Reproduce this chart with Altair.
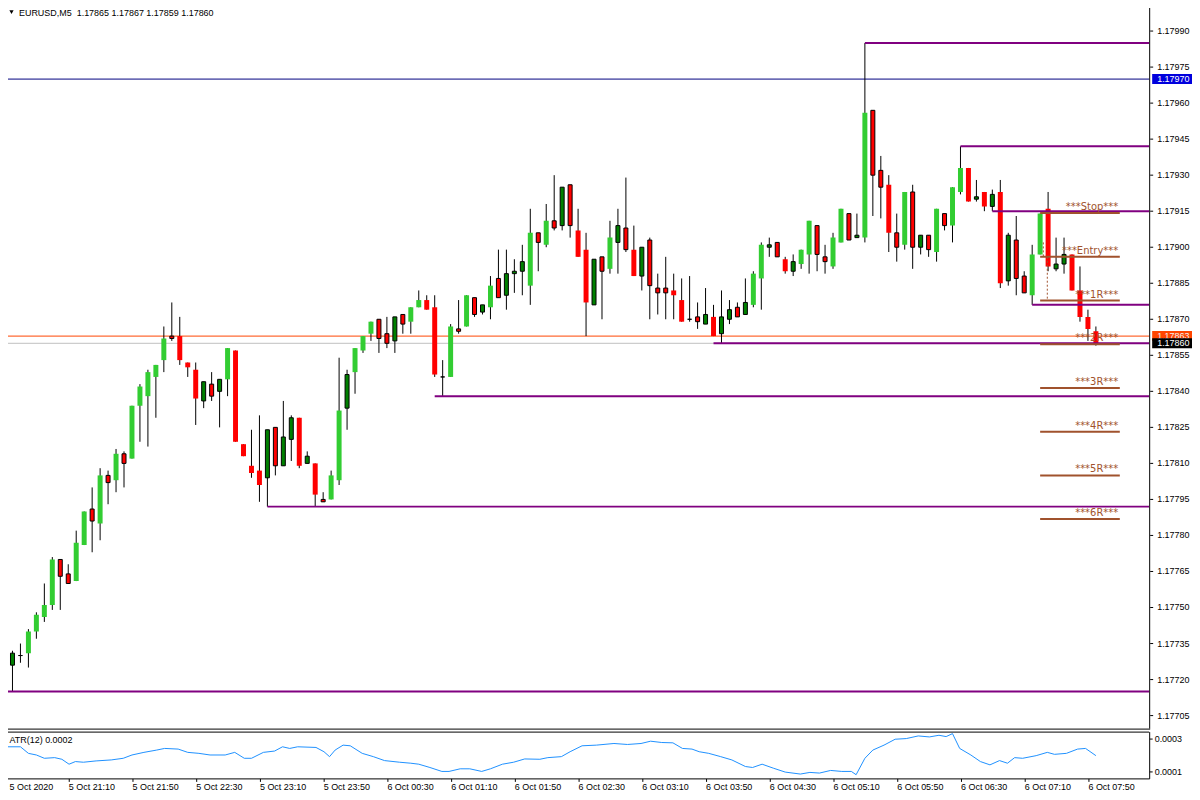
import json
import altair as alt
import pandas as pd

# ---------------- data ----------------
opens = [
    1.17742, 1.17726, 1.17730, 1.17731, 1.17740, 1.17746, 1.17751, 1.17770, 1.17764, 1.17761,
    1.17776, 1.17791, 1.17785, 1.17805, 1.17803, 1.17814, 1.17812, 1.17834, 1.17838, 1.17846,
    1.17853, 1.17863, 1.17863, 1.17852, 1.17849, 1.17836, 1.17843, 1.17840, 1.17845, 1.17857,
    1.17818, 1.17809, 1.17807, 1.17804, 1.17825, 1.17809, 1.17820, 1.17829, 1.17810, 1.17810,
    1.17795, 1.17795, 1.17803, 1.17833, 1.17848, 1.17857, 1.17864, 1.17870, 1.17864, 1.17861,
    1.17872, 1.17869, 1.17875, 1.17878, 1.17875, 1.17846, 1.17846, 1.17866, 1.17867, 1.17879,
    1.17873, 1.17875, 1.17887, 1.17880, 1.17889, 1.17890, 1.17884, 1.17906, 1.17901, 1.17911,
    1.17909, 1.17926, 1.17907, 1.17899, 1.17876, 1.17896, 1.17891, 1.17902, 1.17908, 1.17899,
    1.17888, 1.17903, 1.17883, 1.17883, 1.17882, 1.17878, 1.17870, 1.17871, 1.17868, 1.17871,
    1.17864, 1.17870, 1.17875, 1.17872, 1.17876, 1.17887, 1.17900, 1.17902, 1.17895, 1.17890,
    1.17893, 1.17897, 1.17909, 1.17896, 1.17892, 1.17902, 1.17914, 1.17904, 1.17904, 1.17957,
    1.17932, 1.17926, 1.17906, 1.17901, 1.17923, 1.17900, 1.17905, 1.17898, 1.17914, 1.17909,
    1.17923, 1.17933, 1.17920, 1.17923, 1.17917, 1.17923, 1.17886, 1.17903, 1.17888, 1.17880,
    1.17897, 1.17916, 1.17891, 1.17893, 1.17897, 1.17882, 1.17871, 1.17865,
]
highs = [
    1.17751, 1.17732, 1.17735, 1.17741, 1.17748, 1.17760, 1.17771, 1.17770, 1.17768, 1.17782,
    1.17790, 1.17800, 1.17808, 1.17807, 1.17816, 1.17815, 1.17834, 1.17843, 1.17849, 1.17851,
    1.17867, 1.17877, 1.17871, 1.17852, 1.17852, 1.17844, 1.17848, 1.17845, 1.17858, 1.17857,
    1.17818, 1.17824, 1.17830, 1.17824, 1.17825, 1.17836, 1.17830, 1.17829, 1.17815, 1.17810,
    1.17798, 1.17807, 1.17854, 1.17849, 1.17858, 1.17863, 1.17869, 1.17870, 1.17871, 1.17871,
    1.17872, 1.17875, 1.17882, 1.17880, 1.17880, 1.17853, 1.17868, 1.17878, 1.17880, 1.17879,
    1.17876, 1.17888, 1.17899, 1.17899, 1.17895, 1.17901, 1.17916, 1.17906, 1.17918, 1.17930,
    1.17925, 1.17926, 1.17916, 1.17906, 1.17895, 1.17896, 1.17911, 1.17916, 1.17929, 1.17909,
    1.17900, 1.17904, 1.17889, 1.17896, 1.17889, 1.17887, 1.17888, 1.17877, 1.17883, 1.17876,
    1.17882, 1.17878, 1.17877, 1.17887, 1.17890, 1.17902, 1.17904, 1.17902, 1.17896, 1.17897,
    1.17899, 1.17911, 1.17909, 1.17901, 1.17906, 1.17916, 1.17914, 1.17914, 1.17985, 1.17957,
    1.17938, 1.17930, 1.17914, 1.17923, 1.17926, 1.17905, 1.17905, 1.17916, 1.17914, 1.17925,
    1.17942, 1.17933, 1.17928, 1.17923, 1.17924, 1.17928, 1.17906, 1.17913, 1.17890, 1.17901,
    1.17914, 1.17923, 1.17904, 1.17904, 1.17897, 1.17892, 1.17874, 1.17867,
]
lows = [
    1.17726, 1.17715, 1.17727, 1.17725, 1.17737, 1.17744, 1.17749, 1.17749, 1.17760, 1.17761,
    1.17776, 1.17773, 1.17778, 1.17793, 1.17798, 1.17800, 1.17812, 1.17819, 1.17817, 1.17829,
    1.17848, 1.17861, 1.17851, 1.17846, 1.17826, 1.17833, 1.17836, 1.17825, 1.17838, 1.17819,
    1.17813, 1.17804, 1.17794, 1.17792, 1.17805, 1.17809, 1.17811, 1.17808, 1.17810, 1.17792,
    1.17794, 1.17795, 1.17801, 1.17824, 1.17839, 1.17856, 1.17861, 1.17856, 1.17858, 1.17856,
    1.17864, 1.17864, 1.17875, 1.17874, 1.17846, 1.17838, 1.17846, 1.17864, 1.17867, 1.17871,
    1.17872, 1.17870, 1.17879, 1.17874, 1.17881, 1.17880, 1.17876, 1.17890, 1.17900, 1.17907,
    1.17907, 1.17904, 1.17896, 1.17863, 1.17876, 1.17870, 1.17889, 1.17889, 1.17898, 1.17888,
    1.17882, 1.17870, 1.17872, 1.17870, 1.17870, 1.17869, 1.17869, 1.17866, 1.17868, 1.17863,
    1.17860, 1.17868, 1.17871, 1.17872, 1.17875, 1.17874, 1.17896, 1.17896, 1.17889, 1.17888,
    1.17891, 1.17889, 1.17890, 1.17889, 1.17891, 1.17902, 1.17903, 1.17904, 1.17902, 1.17913,
    1.17912, 1.17898, 1.17894, 1.17899, 1.17891, 1.17897, 1.17896, 1.17894, 1.17907, 1.17902,
    1.17922, 1.17919, 1.17919, 1.17915, 1.17915, 1.17883, 1.17884, 1.17880, 1.17881, 1.17876,
    1.17897, 1.17890, 1.17890, 1.17889, 1.17882, 1.17869, 1.17861, 1.17859,
]
closes = [
    1.17727, 1.17731, 1.17730, 1.17740, 1.17747, 1.17751, 1.17770, 1.17763, 1.17760, 1.17777,
    1.17790, 1.17786, 1.17805, 1.17802, 1.17814, 1.17810, 1.17834, 1.17842, 1.17848, 1.17851,
    1.17862, 1.17862, 1.17853, 1.17850, 1.17837, 1.17844, 1.17838, 1.17845, 1.17858, 1.17819,
    1.17813, 1.17806, 1.17801, 1.17824, 1.17809, 1.17821, 1.17829, 1.17809, 1.17813, 1.17797,
    1.17794, 1.17805, 1.17832, 1.17847, 1.17858, 1.17863, 1.17869, 1.17862, 1.17860, 1.17871,
    1.17868, 1.17875, 1.17878, 1.17874, 1.17847, 1.17846, 1.17867, 1.17865, 1.17880, 1.17872,
    1.17876, 1.17884, 1.17879, 1.17889, 1.17890, 1.17894, 1.17906, 1.17902, 1.17911, 1.17908,
    1.17925, 1.17909, 1.17896, 1.17877, 1.17895, 1.17890, 1.17904, 1.17909, 1.17899, 1.17888,
    1.17900, 1.17884, 1.17881, 1.17881, 1.17880, 1.17869, 1.17870, 1.17869, 1.17872, 1.17863,
    1.17871, 1.17874, 1.17871, 1.17877, 1.17889, 1.17901, 1.17901, 1.17896, 1.17890, 1.17894,
    1.17899, 1.17911, 1.17897, 1.17894, 1.17904, 1.17916, 1.17903, 1.17905, 1.17956, 1.17930,
    1.17925, 1.17906, 1.17900, 1.17923, 1.17900, 1.17905, 1.17899, 1.17916, 1.17909, 1.17925,
    1.17933, 1.17919, 1.17921, 1.17917, 1.17922, 1.17885, 1.17905, 1.17887, 1.17881, 1.17897,
    1.17914, 1.17892, 1.17893, 1.17897, 1.17882, 1.17871, 1.17866, 1.17860,
]
# candle style: B = bright green, G = dark green outlined, R = red, r = red outlined
kinds = list(
    "RGGBBBBrrB" "BrBrBrBBBB" "BrRRRGrGBR" "RRRGrGGRGR" "rBBGBBBrrG"
    "rBBRRGBrBr" "GBrGGGBrBr" "GrRRGrBGrR" "GrrrRRGrGR" "GGrGBBGrRG"
    "BBrrBBrGBr" "rRrBrGrBrB" "BRGRGRGrrB" "BRGGRRRR"
)

time_labels = [
    "5 Oct 2020", "5 Oct 21:10", "5 Oct 21:50", "5 Oct 22:30", "5 Oct 23:10", "5 Oct 23:50",
    "6 Oct 00:30", "6 Oct 01:10", "6 Oct 01:50", "6 Oct 02:30", "6 Oct 03:10", "6 Oct 03:50",
    "6 Oct 04:30", "6 Oct 05:10", "6 Oct 05:50", "6 Oct 06:30", "6 Oct 07:10", "6 Oct 07:50",
]
label_bars = [0, 8, 16, 24, 32, 40, 48, 56, 64, 72, 80, 88, 96, 104, 112, 120, 128, 136]
price_ticks = [
    1.17705, 1.17720, 1.17735, 1.17750, 1.17765, 1.17780, 1.17795, 1.17810, 1.17825, 1.17840,
    1.17855, 1.17870, 1.17885, 1.17900, 1.17915, 1.17930, 1.17945, 1.17960, 1.17975, 1.17990,
]

sr_levels = [1.17985, 1.17942, 1.17915, 1.17876, 1.17860, 1.17838, 1.17792, 1.17715]
sr_from = [108, 120, 124, 129, 89, 54, 33, 0]

r_names = ["***Stop***", "***Entry***", "***1R***", "***2R***", "***3R***", "***4R***", "***5R***", "***6R***"]
r_levels = [1.179142, 1.17896, 1.178778, 1.178596, 1.178414, 1.178232, 1.17805, 1.177868]
r_from, r_to = 130, 140

dash_x = [130.4, 130.9]
dash_top = [1.17902, 1.17896]
dash_bot = [1.17896, 1.178778]

hline_price = 1.17970
ask_price = 1.17863
bid_price = closes[-1]

atr_pos = [
    0, 2, 3, 4, 5, 6.3, 7.2, 8.1, 8.9, 9.9, 11.5, 13.4, 14.9, 16, 17.5, 19.1, 20.1, 21.8, 23, 24.4,
    25.8, 27.7, 28.9, 30.1, 31, 32.5, 33.9, 34.9, 35.8, 36.8, 39.1, 40.1, 40.8, 41.5, 42.5, 43.4,
    44.9, 46.3, 47.7, 49.6, 51, 52, 53.4, 54.9, 55.8, 57.2, 58.4, 59.9, 61, 62.5, 63.9, 65.3, 67.2,
    68.2, 69.9, 71, 72.5, 74.3, 76.5, 78.2, 79.9, 81.1, 82.5, 83.9, 85.1, 86.3, 87.2, 88.4, 89.9,
    91.3, 93, 93.9, 95.1, 96.5, 98, 99.9, 101.1, 102.3, 103.7, 105.1, 106.3, 106.9, 108, 109, 110.4,
    111.8, 113.2, 114.7, 116.1, 117.3, 118.2, 119, 119.9, 121.3, 122.5, 123.7, 124.9, 125.9, 126.8,
    127.8, 129.5, 130.9, 131.8, 133.3, 134.7, 135.7, 137,
]
atr_e4 = [  # ATR in units of 0.0001
    2.5, 2.5, 2.1, 2.0, 1.8, 1.84, 1.74, 1.44, 1.6, 1.56, 1.64, 1.7, 1.8, 2.0, 2.16, 2.3, 2.4, 2.36,
    2.16, 2.1, 2.0, 2.0, 2.16, 1.8, 1.8, 2.16, 2.24, 2.5, 2.4, 2.5, 2.46, 2.2, 1.9, 2.3, 2.6, 2.56,
    2.1, 1.9, 1.66, 1.56, 1.5, 1.44, 1.24, 1.0, 1.0, 1.16, 1.16, 1.0, 1.16, 1.44, 1.56, 1.76, 1.74,
    1.84, 1.9, 2.2, 2.56, 2.6, 2.7, 2.64, 2.7, 2.84, 2.76, 2.74, 2.4, 2.36, 2.2, 2.1, 1.9, 1.7, 1.3,
    1.24, 1.44, 1.2, 0.96, 0.84, 0.94, 0.9, 1.06, 1.0, 1.0, 0.8, 1.8, 2.3, 2.6, 2.96, 3.0, 3.16, 3.1,
    3.2, 3.12, 3.3, 2.4, 2.0, 1.6, 1.4, 1.66, 1.5, 1.84, 1.8, 1.96, 2.16, 2.04, 2.1, 2.36, 2.4, 1.96,
]
atr_ticks = [0.0001, 0.0003]
atr_title = "ATR(12) 0.0002"
symbol = "EURUSD,M5"

# ---------------- layout constants ----------------
W, H_MAIN, H_ATR = 1151, 730, 47
X_MIN, X_MAX = -0.1875, 143.6875
Y_MIN, Y_MAX = 1.1769958, 1.1800223
A_MIN, A_MAX = 0.0000576, 0.0003424
FONT = "Liberation Sans"
SIENNA = "#A0522D"
PURPLE = "#800080"

xs = alt.Scale(domain=[X_MIN, X_MAX], nice=False, zero=False)
ys = alt.Scale(domain=[Y_MIN, Y_MAX], nice=False, zero=False)
ats = alt.Scale(domain=[A_MIN, A_MAX], nice=False, zero=False)


def X(f, axis=None):
    return alt.X(f, type="quantitative", scale=xs, axis=axis)


def Y(f):
    return alt.Y(f, type="quantitative", scale=ys, axis=None)


bars = pd.DataFrame({
    "i": list(range(len(opens))), "open": opens, "high": highs,
    "low": lows, "close": closes, "kind": kinds,
})
bars["x0"] = bars["i"] - 0.3125
bars["x1"] = bars["i"] + 0.3125
bars["xb0"] = bars["i"] - 0.25
bars["xb1"] = bars["i"] + 0.25

kind_scale = alt.Scale(domain=["B", "G", "R", "r"], range=["#32CD32", "#008000", "#FF0000", "#FF0000"])

one = pd.DataFrame({"a": [0]})

# --- horizontal price lines (behind candles)
def full_line(price, color):
    return alt.Chart(pd.DataFrame({"p": [price]})).mark_rule(color=color, strokeWidth=1).encode(y=Y("p"))

lines_back = [full_line(hline_price, "#000080"), full_line(bid_price, "#C0C0C0"),
              full_line(ask_price, "#FF4500")]

base = alt.Chart(bars)
wicks = base.mark_rule(color="black", strokeWidth=1, clip=True).encode(
    x=X("i"), y=Y("low"), y2="high")
bodies = base.transform_filter(
    alt.FieldOneOfPredicate(field="kind", oneOf=["B", "R"])
).mark_rect(clip=True).encode(
    x=X("x0"), x2="x1", y=Y("open"), y2="close",
    color=alt.Color("kind:N", scale=kind_scale, legend=None))
bodies_b = base.transform_filter(
    alt.FieldOneOfPredicate(field="kind", oneOf=["G", "r"])
).mark_rect(clip=True, stroke="black", strokeWidth=1).encode(
    x=X("xb0"), x2="xb1", y=Y("open"), y2="close",
    color=alt.Color("kind:N", scale=kind_scale, legend=None))

sr = pd.DataFrame({"level": sr_levels, "start": sr_from, "end": [X_MAX] * len(sr_levels)})
sr_lines = alt.Chart(sr).mark_rule(color=PURPLE, strokeWidth=2, clip=True).encode(
    x=X("start"), x2="end", y=Y("level"))

rr = pd.DataFrame({"name": r_names, "level": r_levels, "a": r_from, "b": r_to, "tx": r_to - 0.2})
r_lines = alt.Chart(rr).mark_rule(color=SIENNA, strokeWidth=2, clip=True).encode(
    x=X("a"), x2="b", y=Y("level"))
r_text = alt.Chart(rr).mark_text(
    align="right", baseline="alphabetic", dy=-3, font="DejaVu Sans", fontSize=10, color=SIENNA
).encode(x=X("tx"), y=Y("level"), text="name:N")

dd = pd.DataFrame({"x": dash_x, "t": dash_top, "b": dash_bot})
dash = alt.Chart(dd).mark_rule(color=SIENNA, strokeWidth=1, strokeDash=[2, 2]).encode(
    x=X("x"), y=Y("t"), y2="b")

header_txt = f"{symbol}\u00a0\u00a0{opens[-1]:.5f} {highs[-1]:.5f} {lows[-1]:.5f} {closes[-1]:.5f}"
header = alt.Chart(pd.DataFrame({"t": [header_txt]})).mark_text(
    align="left", baseline="middle", font=FONT, fontSize=9, color="black"
).encode(x=alt.value(16), y=alt.value(11), text="t:N")
tri = alt.Chart(one).mark_point(shape="triangle-down", filled=True, color="black", size=18, opacity=1).encode(
    x=alt.value(8.5), y=alt.value(10.5))

# --- right price axis drawn from the tick list through the y scale
tk = pd.DataFrame({"p": price_ticks, "lab": [f"{v:.5f}" for v in price_ticks]})
axis_line = alt.Chart(one).mark_rule(color="black", strokeWidth=1).encode(
    x=alt.value(W + 0.5), y=alt.value(0.5), y2=alt.value(H_MAIN))
bottom_line = alt.Chart(one).mark_rule(color="black", strokeWidth=1).encode(
    x=alt.value(0.5), x2=alt.value(W + 1), y=alt.value(H_MAIN + 0.5))
tick_marks = alt.Chart(tk).mark_rule(color="black", strokeWidth=1).encode(
    x=alt.value(W + 1), x2=alt.value(W + 4), y=Y("p"))
tick_labels = alt.Chart(tk).mark_text(
    align="left", baseline="middle", font=FONT, fontSize=9, color="black"
).encode(x=alt.value(W + 8), y=Y("p"), text="lab:N")


def price_box(price, fill, txt_color):
    d = pd.DataFrame({"p": [price], "lab": [f"{price:.5f}"]})
    box = alt.Chart(d).mark_tick(orient="horizontal", size=40, thickness=10, color=fill, opacity=1).encode(
        x=alt.value(1174), y=Y("p"))
    txt = alt.Chart(d).mark_text(align="left", baseline="middle", font=FONT, fontSize=9, color=txt_color).encode(
        x=alt.value(W + 8), y=Y("p"), text="lab:N")
    return [box, txt]


boxes = price_box(hline_price, "#0000DD", "white") + price_box(ask_price, "#FF4500", "#F0F0F0") + \
    price_box(bid_price, "black", "white")

main = alt.layer(
    *lines_back, wicks, bodies, bodies_b, sr_lines, r_lines, dash, r_text, header, tri,
    axis_line, bottom_line, tick_marks, tick_labels, *boxes
).properties(width=W, height=H_MAIN)

# ---------------- ATR panel ----------------
atr_df = pd.DataFrame({"pos": atr_pos, "val": [v * 1e-4 for v in atr_e4]})
x_expr = f"{json.dumps(time_labels)}[round(datum.value / 8)]"
x_axis = alt.Axis(
    orient="bottom", values=label_bars[1:], labelExpr=x_expr, title=None, grid=False,
    tickSize=3, labelPadding=1.5, labelAlign="left", labelBaseline="top", domain=True,
    domainColor="black", tickColor="black", labelColor="black", labelFont=FONT, labelFontSize=9,
    labelOverlap=False, labelFlush=False,
)
a_axis = alt.Axis(
    orient="right", values=atr_ticks, format=".4f", title=None, grid=False, tickSize=3,
    labelPadding=2, domainColor="black", tickColor="black", labelColor="black",
    labelFont=FONT, labelFontSize=9, labelOverlap=False, labelFlush=False,
)
atr_line = alt.Chart(atr_df).mark_line(color="#1E90FF", strokeWidth=1, clip=True).encode(
    x=X("pos", x_axis), y=alt.Y("val:Q", scale=ats, axis=a_axis))
atr_top = alt.Chart(one).mark_rule(color="black", strokeWidth=1).encode(
    x=alt.value(1), x2=alt.value(W), y=alt.value(0.5))
atr_lbl = alt.Chart(pd.DataFrame({"t": [atr_title]})).mark_text(
    align="left", baseline="middle", font=FONT, fontSize=9, color="black"
).encode(x=alt.value(6.5), y=alt.value(8), text="t:N")
first_lbl = alt.Chart(pd.DataFrame({"t": [time_labels[0]]})).mark_text(
    align="left", baseline="top", font=FONT, fontSize=9, color="black"
).encode(x=alt.value(6.5), y=alt.value(H_ATR + 4.5), text="t:N")

atr = alt.layer(atr_line, atr_top, atr_lbl, first_lbl).properties(width=W, height=H_ATR)

chart = alt.vconcat(main, atr, spacing=2).properties(
    padding={"left": -6, "top": -8, "right": 0, "bottom": -3}
).configure_view(strokeWidth=0)

chart.save("out.html", embed_options={"renderer": "svg", "actions": False})
